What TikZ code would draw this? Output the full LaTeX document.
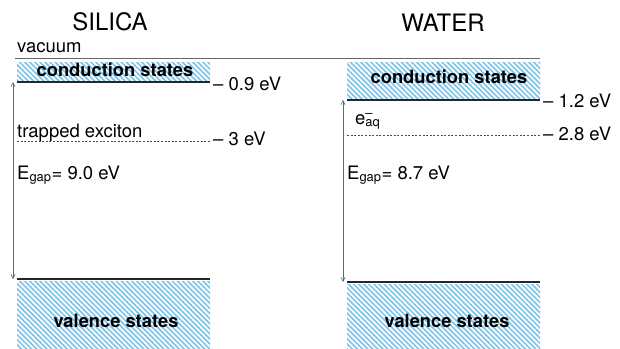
\documentclass[tikz,border=0pt]{standalone}
\usepackage{fontspec}
\setmainfont{TeX Gyre Heros}
\usepackage{xcolor}
\usepackage{tikz}
\usetikzlibrary{
    positioning, % relative placement
    arrows.meta, % gap arrow tips
    patterns.meta, % hatched bands
    calc
}
\tikzset{>={Straight Barb[length=4pt,width=4pt]}}
\definecolor{bandblue}{RGB}{128,196,234}

\begin{document}
\begin{tikzpicture}[x=1pt,y=-1pt]
    % styles
    \tikzstyle{band}  = [draw=none, fill=white,
                         pattern={Lines[angle=-45,distance=3.6pt,line width=1.7pt]},
                         pattern color=bandblue]
    \tikzstyle{edge}  = [line width=1.2pt, draw=black!85]
    \tikzstyle{trap}  = [dashed, dash pattern=on 2pt off 1.6pt, line width=0.5pt, draw=black!70]
    \tikzstyle{gap}   = [<->, draw=black!60, line width=0.6pt]
    \tikzstyle{lbl}   = [inner sep=0pt, anchor=base west, font=\fontsize{18.5}{20}\selectfont]
    \tikzstyle{bandtxt} = [inner sep=0pt, anchor=base, font=\fontsize{18.3}{20}\selectfont\bfseries]
    \tikzstyle{title} = [inner sep=0pt, anchor=base, font=\fontsize{24}{28}\selectfont]
    \useasboundingbox (0,0) rectangle (620,348);

    % titles
    \node[title] (tsil) at (110,30) {SILICA};
    \node[title] (twat) at (443,31) {WATER};

    % vacuum level
    \node[lbl] (vac) at (17,52) {vacuum};
    \coordinate (vacL) at (15,58);
    \coordinate (vacR) at (540,58);
    \draw[draw=black!60, line width=0.6pt] (vacL) -- (vacR);

    % ---- silica ----
    \fill[band] (17,62) rectangle (210,81);
    \fill[band] (17,281) rectangle (210,348);
    \coordinate (scbL) at (17,82);  \coordinate (scbR) at (210,82);
    \coordinate (svbL) at (17,279); \coordinate (svbR) at (210,279);
    \coordinate (strL) at (17,141); \coordinate (strR) at (210,141);
    \draw[edge] (scbL) -- (scbR);
    \draw[edge] (svbL) -- (svbR);
    \draw[trap] (strL) -- (strR);
    \node[bandtxt] (scond) at (115,76) {conduction states};
    \node[bandtxt] (sval)  at (116,327) {valence states};
    \node[lbl] (s09) at (213,90) {\textendash\ 0.9 eV};
    \node[lbl] (s3)  at (213,145) {\textendash\ 3 eV};
    \node[lbl] (sexc) at (17,137) {trapped exciton};
    \node[lbl] (sgap) at (17,179) {E\textsubscript{gap}= 9.0 eV};
    \coordinate (sarT) at (13,82);
    \coordinate (sarB) at (13,279);
    \draw[gap] (sarT) -- (sarB);

    % ---- water ----
    \fill[band] (347,62) rectangle (540,98);
    \fill[band] (347,284) rectangle (540,348);
    \coordinate (wcbL) at (347,100); \coordinate (wcbR) at (540,100);
    \coordinate (wvbL) at (347,282); \coordinate (wvbR) at (540,282);
    \coordinate (wtrL) at (347,135); \coordinate (wtrR) at (540,135);
    \draw[edge] (wcbL) -- (wcbR);
    \draw[edge] (wvbL) -- (wvbR);
    \draw[trap] (wtrL) -- (wtrR);
    \node[bandtxt] (wcond) at (449,83) {conduction states};
    \node[bandtxt] (wval)  at (447,327) {valence states};
    \node[lbl] (w12) at (543,107) {\textendash\ 1.2 eV};
    \node[lbl] (w28) at (543,140) {\textendash\ 2.8 eV};
    \node[lbl] (weaq) at (355,124) {e\rlap{\textsuperscript{\textendash}}\textsubscript{aq}};
    \node[lbl] (wgap) at (347,179) {E\textsubscript{gap}= 8.7 eV};
    \coordinate (warT) at (343,100);
    \coordinate (warB) at (343,282);
    \draw[gap] (warT) -- (warB);
\end{tikzpicture}
\end{document}
